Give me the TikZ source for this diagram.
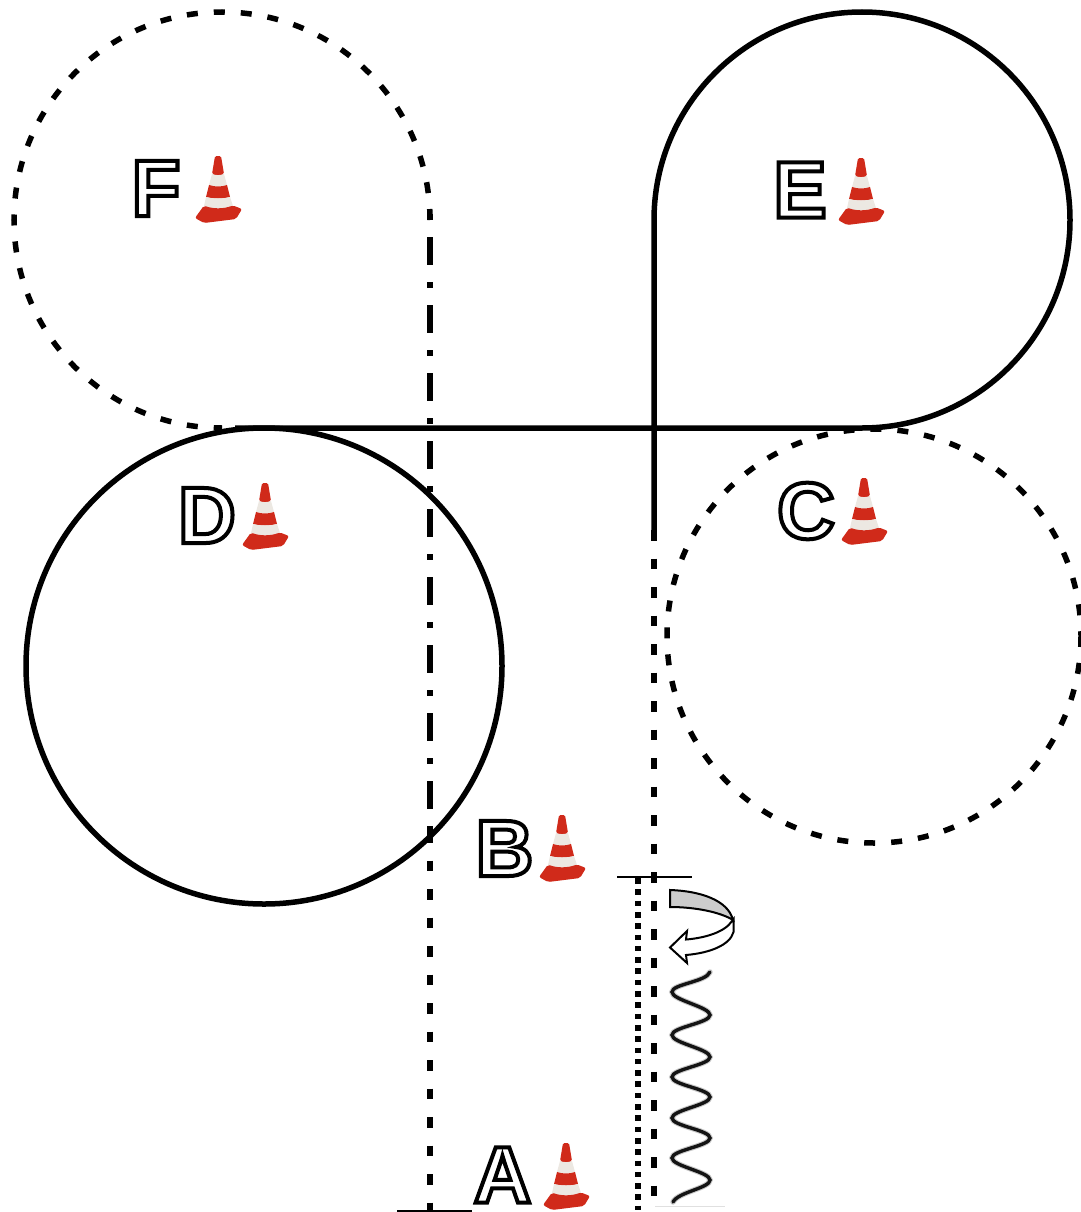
\documentclass[tikz,border=0pt]{standalone}
\usepackage{fontspec}
\setmainfont{Liberation Sans}
\usetikzlibrary{calc}
\definecolor{conered}{RGB}{208,42,26}
\definecolor{conewhite}{RGB}{236,232,226}
\definecolor{bandgrey}{RGB}{204,204,204}
\newcommand{\outlined}[1]{\special{pdf:code 1 Tr 4 w 0 0 0 RG}#1\special{pdf:code 0 Tr}}
\newcommand{\wavecurve}{(710,972) .. controls (706,982) and (672,984) .. (672,992)
  .. controls (672,1000) and (710,1007) .. (710,1015)
  .. controls (710,1023) and (672,1027) .. (672,1035)
  .. controls (672,1043) and (710,1049) .. (710,1057)
  .. controls (710,1065) and (672,1069) .. (672,1077)
  .. controls (672,1085) and (710,1089) .. (710,1097)
  .. controls (710,1105) and (672,1110) .. (672,1118)
  .. controls (672,1126) and (710,1130) .. (710,1138)
  .. controls (710,1146) and (672,1150) .. (672,1158)
  .. controls (672,1166) and (710,1172) .. (710,1180)
  .. controls (710,1188) and (678,1192) .. (673,1202)}
\tikzset{
  x=1pt,y=-1pt,
  course/.style={line width=5.5pt,black},
  dashcourse/.style={line width=6pt,black,dash pattern=on 10.5pt off 18pt},
  dashcircle/.style={course,dash pattern=on 11pt off 16pt},
  dashdotcourse/.style={line width=6pt,dash pattern=on 6pt off 17pt on 28pt off 17pt},
  dotcourse/.style={line width=6pt,dash pattern=on 5.6pt off 5.7pt},
  limit/.style={line width=2pt,black},
  letter/.style={inner sep=0pt,font=\fontsize{80}{80}\selectfont\bfseries},
  wavepath/.style={line cap=round},
  pics/cone/.style={code={
    \fill[conered,rounded corners=1.5pt] (-3,0) -- (3,0) -- (6,18) .. controls (2,19.5) and (-2,19.5) .. (-6,18) -- cycle;
    \fill[conewhite] (-6,18) .. controls (-2,19.5) and (2,19.5) .. (6,18) -- (9,29) .. controls (3,31) and (-3,31) .. (-9,29) -- cycle;
    \fill[conered] (-9,29) .. controls (-3,31) and (3,31) .. (9,29) -- (12,41) .. controls (4,43) and (-4,43) .. (-12,41) -- cycle;
    \fill[conewhite] (-12,41) .. controls (-4,43) and (4,43) .. (12,41) -- (15,50) .. controls (5,53) and (-5,53) .. (-14,50) -- cycle;
    \fill[conered,rounded corners=2pt] (-14,49.5) .. controls (-5,53) and (5,53) .. (15,49.5) -- (24,53) -- (18,63) -- (-14,67) -- (-23,62) -- cycle;
  }}
}
\begin{document}
\begin{tikzpicture}
\useasboundingbox (0,0) rectangle (1080,1212);
% circles and course
\draw[course] (264,666) circle[radius=238];
\draw[dashcircle] (874,636) circle[radius=207];
\draw[dashcircle] (430,220) arc[start angle=0,delta angle=-270,radius=208];
\draw[course] (654,530) -- (654,220) arc[start angle=180,delta angle=270,radius=208] -- (235,428);
% verticals
\draw[dashdotcourse] (430,214) -- (430,832);
\draw[dashcourse] (430,832) -- (430,1210);
\draw[dashcourse] (654,530) -- (654,1210);
\draw[dotcourse] (638,878) -- (638,1210);
\draw[limit] (617,877) -- (692,877);
\draw[limit] (397,1210.5) -- (472,1210.5);
\draw[line width=1pt,black!12] (655,1206) -- (725,1206);
% turning arrow
\draw[line width=2pt,fill=bandgrey] (670,890) .. controls (700,891) and (728,900) .. (733,920) .. controls (720,912) and (695,907) .. (670,907) -- cycle;
\draw[line width=2pt,fill=white,line join=miter] (732,921) .. controls (725,932) and (705,938) .. (686,939.5) -- (687,931) -- (670,947.5) -- (687,963) -- (686,955) .. controls (710,953) and (730,945) .. (733.5,932) -- (733.5,919) -- cycle;
% wave
\draw[wavepath,line width=5.5pt,black!22] \wavecurve;
\draw[wavepath,line width=3.4pt,black!92] \wavecurve;
% letters
\node[letter] (F) at (156,188.5) {\outlined{F}};
\node[letter] (E) at (800,190) {\outlined{E}};
\node[letter] (D) at (207,515.5) {\outlined{D}};
\node[letter] (C) at (806,511) {\outlined{C}};
\node[letter] (B) at (504.5,848.5) {\outlined{B}};
\node[letter] (A) at (502.5,1175) {\outlined{A}};
% cones
\pic at (218,156) {cone};
\pic at (861,158) {cone};
\pic at (265,483) {cone};
\pic at (864,478) {cone};
\pic at (562,815) {cone};
\pic at (566,1143) {cone};
\end{tikzpicture}
\end{document}
